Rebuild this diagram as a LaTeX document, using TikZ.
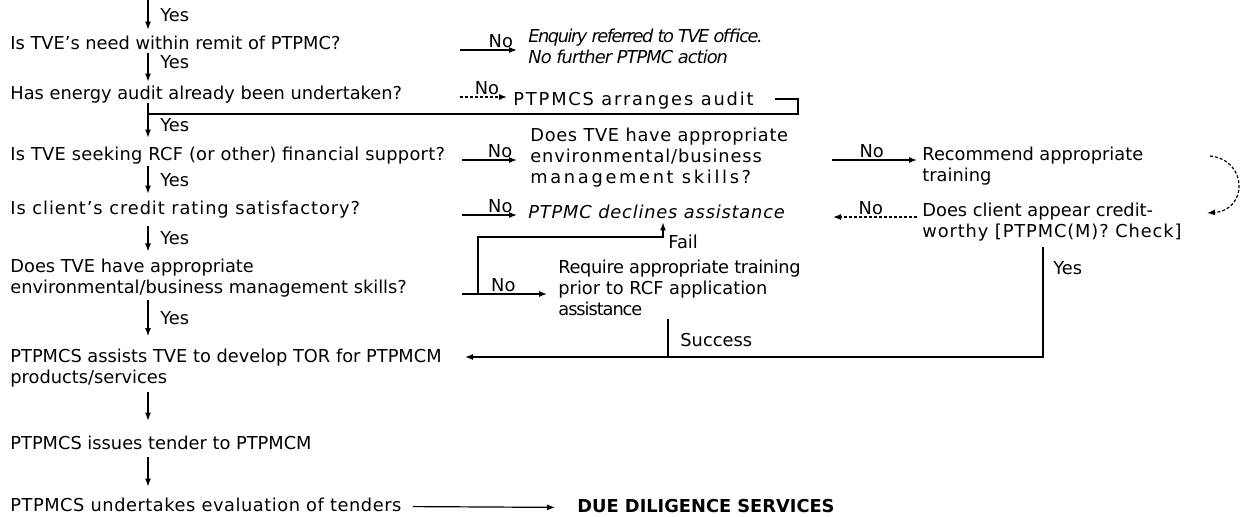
\documentclass[tikz,border=0pt]{standalone}
\usepackage{fontspec}
\setmainfont{DejaVu Sans}
\usetikzlibrary{arrows.meta}
\newcommand\lsp[2]{{\addfontfeatures{LetterSpace=#1}#2}}
\begin{document}
\begin{tikzpicture}[x=0.5pt,y=-0.5pt,
  every node/.style={inner sep=0pt, font=\fontsize{8.9}{10.5}\selectfont},
  txt/.style={anchor=base west, text height=6.5pt, text depth=2pt},
  mtxt/.style={anchor=base west, align=left},
  itx/.style={font=\fontsize{8.9}{10.5}\selectfont\itshape},
  arr/.style={line width=0.6pt, -{Latex[length=4pt,width=3pt]}},
  plain/.style={line width=0.6pt},
  dsh/.style={dash pattern=on 1.5pt off 1pt},
  lbl/.style={above, inner sep=0.6pt},
]
\useasboundingbox (0,0) rectangle (1240,516);

% main column
\node[txt] (q1) at (10,49) {Is TVE’s need within remit of PTPMC?};
\node[txt] (q2) at (10,99) {Has energy audit already been undertaken?};
\node[txt] (q3) at (10,160) {\lsp{1.5}{Is TVE seeking RCF (or other) financial support?}};
\node[txt] (q4) at (10,214) {\lsp{5.2}{Is client’s credit rating satisfactory?}};
\node[mtxt] (q5) at (10,293) {Does TVE have appropriate\\environmental/business management skills?};
\node[mtxt] (a1) at (10,383) {PTPMCS assists TVE to develop TOR for PTPMCM\\products/services};
\node[txt] (a2) at (10,449) {PTPMCS issues tender to PTPMCM};
\node[txt] (a3) at (10,511) {\lsp{3}{PTPMCS undertakes evaluation of tenders}};
\node[txt, font=\fontsize{8.9}{10.5}\selectfont\bfseries] (d) at (577,512) {DUE DILIGENCE SERVICES};

% right column
\node[mtxt, itx] (r1) at (528,63) {\lsp{-8.4}{Enquiry referred to TVE office.}\\\lsp{-5.3}{No further PTPMC action}};
\node[txt] (r2) at (513,105) {\lsp{10.3}{PTPMCS arranges audit}};
\node[mtxt] (r3) at (530,183) {\lsp{3.8}{Does TVE have appropriate}\\\lsp{5}{environmental/business}\\\lsp{15}{management skills?}};
\node[mtxt] (r3b) at (922,181) {Recommend appropriate\\training};
\node[txt, itx] (r4) at (528,218) {\lsp{4.6}{PTPMC declines assistance}};
\node[mtxt] (c) at (922,237) {Does client appear credit-\\\lsp{5}{worthy [PTPMC(M)? Check]}};
\node[mtxt] (r6) at (558,315) {\lsp{-2.2}{Require appropriate training}\\prior to RCF application\\\lsp{-6}{assistance}};

% vertical Yes arrows
\coordinate (t0) at (148,0);
\draw[arr, shorten >=3pt] (t0) -- (t0 |- q1.north);
\draw[arr, shorten >=2pt] (q1.south -| t0) -- (q2.north -| t0);
\draw[arr, shorten >=4.5pt] (q2.south -| t0) -- (q3.north -| t0);
\draw[arr, shorten <=1pt, shorten >=3.5pt] (q3.south -| t0) -- (q4.north -| t0);
\draw[arr, shorten <=4pt, shorten >=3.3pt] (q4.south -| t0) -- (q5.north -| t0);
\draw[arr, shorten <=1.5pt, shorten >=6pt] (q5.south -| t0) -- (a1.north -| t0);
\draw[arr, shorten <=2.5pt, shorten >=7.5pt] (a1.south -| t0) -- (a2.north -| t0);
\draw[arr, shorten <=2pt, shorten >=5.5pt] (a2.south -| t0) -- (a3.north -| t0);
\node[txt] (y0) at (160,21) {Yes};
\node[txt] (y1) at (160,68) {Yes};
\node[txt] (y2) at (160,131) {Yes};
\node[txt] (y3) at (160,186) {Yes};
\node[txt] (y4) at (160,244) {Yes};
\node[txt] (y5) at (160,324) {Yes};

% No arrows
\coordinate (n1) at (460,50);
\draw[arr, shorten >=5.5pt] (n1) -- (n1 -| r1.west) node[lbl, pos=0.6] {No};
\coordinate (n2) at (460,97);
\draw[arr, dsh, shorten >=3pt] (n2) -- (n2 -| r2.west) node[lbl, pos=0.51] {No};
\coordinate (n3) at (462,160);
\draw[arr, shorten >=6.5pt] (n3) -- (n3 -| r3.west) node[lbl, pos=0.56] {No};
\coordinate (n3b) at (832,160);
\draw[arr, shorten >=2.5pt] (n3b) -- (n3b -| r3b.west) node[lbl, pos=0.44] {No};
\coordinate (n4) at (462,215);
\draw[arr, shorten >=5.5pt] (n4) -- (n4 -| r4.west) node[lbl, pos=0.58] {No};
\coordinate (n4c) at (917,217);
\coordinate (n4t) at (833,217);
\draw[arr, dsh] (n4c) -- (n4t) node[lbl, pos=0.55] {No};
\coordinate (n6) at (462,294);
\draw[arr, shorten >=5.5pt] (n6) -- (n6 -| r6.west) node[lbl, pos=0.43] {No};

% audit loop back
\coordinate (j2) at (148,114);
\coordinate (l0) at (775,99);
\draw[plain] (l0) -- ++(23,0) coordinate (lc) -- (lc |- j2) -- (j2);

% curve from training to credit check
\coordinate (cv0) at (1210,156);
\coordinate (cv1) at (1207,213);
\draw[arr, dsh] (cv0) .. controls (1248,160) and (1248,210) .. (cv1);

% credit-worthy yes path
\coordinate (cs) at (1043,247);
\coordinate (s1) at (1043,357);
\draw[arr, shorten >=11.5pt] (cs) -- (s1) -- (s1 -| a1.east);
\node[txt] (ycs) at (1053,274) {Yes};

% success
\coordinate (sc) at (668,319);
\draw[plain] (sc) -- (sc |- s1);
\node[txt] (suc) at (680,346) {Success};

% fail
\coordinate (f0) at (478,294);
\coordinate (f1) at (663,237);
\draw[arr] (f0) |- (f1) -- (f1 |- r4.south);
\node[txt] (fl) at (668,248) {Fail};

% due diligence
\draw[arr, shorten <=5.5pt, shorten >=11pt] (a3.east) -- (d.west);
\end{tikzpicture}
\end{document}
